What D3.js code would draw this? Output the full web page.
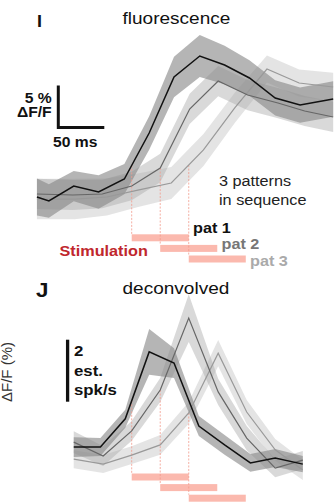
<!DOCTYPE html>
<html>
<head>
<meta charset="utf-8">
<script src="https://cdn.jsdelivr.net/npm/d3@7"></script>
<style>
  html, body { margin: 0; padding: 0; background: #fff; overflow: hidden; }
  svg { display: block; }
</style>
</head>
<body>
<script>
// stimulation timing (ms, 0 = onset of pat 1)
const stimOnsets = [0, 31, 62];
const stimDur = 62;
const patLabels = ['pat 1', 'pat 2', 'pat 3'];

// I: fluorescence, dF/F (%)
const fluoT1 = [-103, -90, -63, -36, -8, 19, 46, 74, 101, 128, 156, 183, 219];
const fluoM1 = [-0.24, -0.71, 1.07, 0.36, 1.90, 7.38, 14.05, 16.55, 15.48, 13.93, 11.55, 10.71, 11.43];
const fluoS1 = [2.2, 2.0, 1.8, 2.0, 1.8, 2.0, 2.4, 2.5, 2.3, 2.1, 2.1, 2.1, 2.1];
const fluoT2 = [-103, -64, -32, 0, 31, 63, 94, 126, 159, 188, 219];
const fluoM2 = [0.12, 0, 0.12, 1.07, 3.21, 10.24, 13.57, 11.9, 10.95, 10.0, 9.29];
const fluoS2 = [1.8, 1.8, 1.7, 1.7, 1.7, 1.8, 1.8, 1.8, 1.8, 1.8, 1.8];
const fluoT3 = [-103, -62, -27, 8, 43, 78, 112, 147, 182, 219];
const fluoM3 = [-0.48, -0.48, -0.24, 0.6, 1.43, 5.36, 10.36, 15.0, 13.33, 12.86];
const fluoS3 = [2.4, 2.4, 2.2, 2.0, 1.9, 1.9, 1.8, 1.6, 1.6, 1.7];

// J: deconvolved, est. spk/s
const decT1 = [-63, -34, -7, 19, 46, 73, 101, 129, 156, 186];
const decM1 = [0.74, 0.74, 1.65, 3.81, 3.45, 1.42, 0.81, 0.23, 0.39, 0.19];
const decS1 = [0.32, 0.29, 0.29, 0.74, 0.48, 0.32, 0.32, 0.29, 0.29, 0.26];
const decT2 = [-63, -31, 0, 31, 62, 94, 125, 156, 186];
const decM2 = [0.9, 0.45, 1.26, 2.58, 4.9, 2.52, 1.03, 0.06, 0.32];
const decS2 = [0.35, 0.32, 0.32, 0.39, 0.77, 0.42, 0.39, 0.29, 0.29];
const decT3 = [-63, -31, 0, 31, 62, 94, 125, 156, 186];
const decM3 = [0.35, 0.19, 0.48, 0.81, 1.84, 3.77, 1.87, 0.65, 0];
const decS3 = [0.29, 0.29, 0.29, 0.32, 0.35, 0.42, 0.39, 0.35, 0.32];

const LINE_COL = ['#111', '#666', '#999'];
const LINE_W = [1.5, 1.2, 1.2];
const BAND_COL = ['#888', '#aaa', '#bbb'];
const BAND_OP = [0.62, 0.45, 0.4];
const LABEL_COL = ['#111', '#777', '#aaa'];
const STIM_COL = '#fbb9ae';
const DASH_COL = '#f29a8c';
const FONT = '"Liberation Sans", Arial, Helvetica, sans-serif';
const SX = 1.12; // text in the figure is slightly wide

let svg = d3.select('body').append('svg')
    .attr('width', 335)
    .attr('height', 502);

let x = d3.scaleLinear().domain([0, 50]).range([131.7, 177.7]);
let yI = d3.scaleLinear().domain([0, 5]).range([195, 153]);
let yJ = d3.scaleLinear().domain([0, 2]).range([470, 408]);

function AddText(sel, str, tx, ty, size, weight, color, anchor='start') {
    return sel.append('text')
        .attr('transform', 'translate(' + tx + ',' + ty + ') scale(' + SX + ',1)')
        .attr('font-family', FONT)
        .attr('font-size', size)
        .attr('font-weight', weight)
        .attr('fill', color)
        .attr('text-anchor', anchor)
        .text(str);
}

function zip(ts, ms, ss) {
    return ts.map((t, i) => ({t: t, m: ms[i], s: ss[i]}));
}

// value of a trace at time t (for where the dashed onset line starts)
function valueAt(pts, t) {
    for (let i = 1; i < pts.length; i++) {
        if (pts[i].t >= t) {
            let a = pts[i-1], b = pts[i];
            return a.m + (b.m - a.m) * (t - a.t) / (b.t - a.t);
        }
    }
    return pts[pts.length-1].m;
}

function DrawPanel(series, y, barTop) {
    let g = svg.append('g');
    let area = d3.area().x(d => x(d.t)).y0(d => y(d.m - d.s)).y1(d => y(d.m + d.s));
    let line = d3.line().x(d => x(d.t)).y(d => y(d.m));
    // bands, pat 3 underneath
    for (let k = 2; k >= 0; k--) {
        g.append('path').datum(series[k])
            .attr('d', area)
            .attr('fill', BAND_COL[k])
            .attr('fill-opacity', BAND_OP[k])
            .attr('stroke', 'none');
    }
    // dashed onset lines + stim bars
    for (let k = 0; k < 3; k++) {
        let x0 = x(stimOnsets[k]);
        let yb = barTop + k * 10.6;
        g.append('line')
            .attr('x1', x0).attr('x2', x0)
            .attr('y1', y(valueAt(series[k], stimOnsets[k])))
            .attr('y2', yb)
            .attr('stroke', DASH_COL)
            .attr('stroke-width', 0.8)
            .attr('stroke-dasharray', '2,1.5');
        g.append('rect')
            .attr('x', x0)
            .attr('y', yb)
            .attr('width', x(stimOnsets[k] + stimDur) - x0)
            .attr('height', 7)
            .attr('fill', STIM_COL);
    }
    for (let k = 2; k >= 0; k--) {
        g.append('path').datum(series[k])
            .attr('d', line)
            .attr('fill', 'none')
            .attr('stroke', LINE_COL[k])
            .attr('stroke-width', LINE_W[k])
            .attr('stroke-linejoin', 'miter');
    }
    return g;
}

// ---- panel I ----
let fluo = [zip(fluoT1, fluoM1, fluoS1), zip(fluoT2, fluoM2, fluoS2), zip(fluoT3, fluoM3, fluoS3)];
DrawPanel(fluo, yI, 234.3);

AddText(svg, 'I', 37, 26.5, 16, 'bold', '#111');
AddText(svg, 'fluorescence', 122.5, 24, 17, 'normal', '#111');

// scale bar 5 % / 50 ms
let sbX = 58.3, sbY = 127.5;
svg.append('path')
    .attr('d', 'M' + sbX + ',' + (sbY - (yI(0) - yI(5))) + 'V' + sbY + 'H' + (sbX + x(50) - x(0)))
    .attr('fill', 'none')
    .attr('stroke', '#111')
    .attr('stroke-width', 3);
AddText(svg, '5 %', 51.7, 103, 14, 'bold', '#111', 'end');
AddText(svg, '\u0394F/F', 51.7, 117, 14, 'bold', '#111', 'end');
AddText(svg, '50 ms', 53, 146.5, 14, 'bold', '#111');

AddText(svg, '3 patterns', 219, 186, 14.5, 'normal', '#222');
AddText(svg, 'in sequence', 219, 204.5, 14.5, 'normal', '#222');

AddText(svg, 'Stimulation', 59.5, 256, 14.5, 'bold', '#c0272d');
let patLabX = [193, 221.5, 250];
let patLabY = [232.5, 248.5, 266];
for (let k = 0; k < 3; k++) {
    AddText(svg, patLabels[k], patLabX[k], patLabY[k], 14.5, 'bold', LABEL_COL[k]);
}

// ---- panel J ----
let dec = [zip(decT1, decM1, decS1), zip(decT2, decM2, decS2), zip(decT3, decM3, decS3)];
DrawPanel(dec, yJ, 473.5);

AddText(svg, 'J', 36, 297, 20, 'bold', '#111');
AddText(svg, 'deconvolved', 122.5, 293.5, 17, 'normal', '#111');

let sbJx = 67.6, sbJy = 401.7;
svg.append('line')
    .attr('x1', sbJx).attr('x2', sbJx)
    .attr('y1', sbJy - (yJ(0) - yJ(2)))
    .attr('y2', sbJy)
    .attr('stroke', '#111')
    .attr('stroke-width', 3.3);
AddText(svg, '2', 74, 356, 15, 'bold', '#111');
AddText(svg, 'est.', 74, 375.5, 15, 'bold', '#111');
AddText(svg, 'spk/s', 74, 394.5, 15, 'bold', '#111');

// cut-off axis label at the left edge
svg.append('text')
    .attr('transform', 'translate(11.5,402) rotate(-90)')
    .attr('font-family', FONT)
    .attr('font-size', 15)
    .attr('fill', '#333')
    .text('\u0394F/F (%)');
</script>
</body>
</html>
